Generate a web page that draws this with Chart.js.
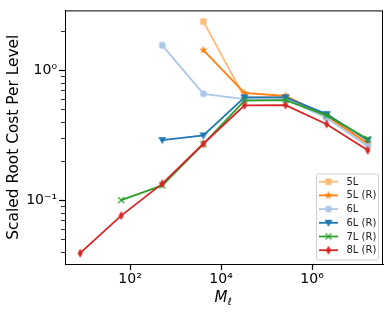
<!DOCTYPE html>
<html>
<head>
<meta charset="utf-8">
<script src="https://cdn.jsdelivr.net/npm/chart.js@4"></script>
<style>
  body { margin: 0; background: #fff; }
  #wrap { width: 390px; height: 312px; }
</style>
</head>
<body>
<div id="wrap"><canvas id="cost"></canvas></div>
<script>
// level sizes M_l (x axis)
var levels = [8, 64, 512, 4096, 32768, 262144, 2097152, 16777216];

// scaled root cost per level, one array per run
var cost_5L   = [null, null, null, 2.38, 0.62, 0.625, 0.44, 0.265];
var cost_5L_R = [null, null, null, 1.43, 0.67, 0.635, 0.445, 0.275];
var cost_6L   = [null, null, 1.56, 0.66, 0.60, 0.60, 0.43, 0.26];
var cost_6L_R = [null, null, 0.29, 0.315, 0.62, 0.62, 0.46, 0.29];
var cost_7L_R = [null, 0.10, 0.13, 0.27, 0.585, 0.59, 0.45, 0.296];
var cost_8L_R = [0.039, 0.076, 0.134, 0.272, 0.537, 0.54, 0.385, 0.242];

var series_names = ['5L', '5L (R)', '6L', '6L (R)', '7L (R)', '8L (R)'];
var series_values = [cost_5L, cost_5L_R, cost_6L, cost_6L_R, cost_7L_R, cost_8L_R];
var series_colors = ['#ffbb78', '#ff7f0e', '#aec7e8', '#1f77b4', '#2ca02c', '#d62728'];
var series_markers = ['square', 'star', 'circle', 'tridown', 'x', 'diamond'];

var y_major = { 0.1: '10\u207b\u00b9', 1: '10\u2070' };
var x_major = { 100: '10\u00b2', 10000: '10\u2074', 1000000: '10\u2076' };

function make_marker(kind, color) {
    let c = document.createElement('canvas');
    c.width = 14; c.height = 14;
    let g = c.getContext('2d');
    g.translate(7, 7);
    g.fillStyle = color;
    g.strokeStyle = color;
    g.beginPath();
    if (kind == 'square') {
        g.rect(-3.2, -3.2, 6.4, 6.4);
        g.fill();
    } else if (kind == 'star') {
        for (let i = 0; i < 10; i++) {
            let r = i % 2 == 0 ? 4.4 : 1.8;
            let a = -Math.PI / 2 + i * Math.PI / 5;
            g.lineTo(r * Math.cos(a), r * Math.sin(a));
        }
        g.closePath();
        g.fill();
    } else if (kind == 'circle') {
        g.arc(0, 0, 3.4, 0, Math.PI * 2);
        g.fill();
    } else if (kind == 'tridown') {
        g.moveTo(-4, -3);
        g.lineTo(4, -3);
        g.lineTo(0, 4);
        g.closePath();
        g.fill();
    } else if (kind == 'x') {
        g.lineWidth = 1.2;
        g.moveTo(-3, -3); g.lineTo(3, 3);
        g.moveTo(3, -3); g.lineTo(-3, 3);
        g.stroke();
    } else {
        g.moveTo(0, -4.5);
        g.lineTo(2.6, 0);
        g.lineTo(0, 4.5);
        g.lineTo(-2.6, 0);
        g.closePath();
        g.fill();
    }
    return c;
}

var datasets = [];
for (let i = 0; i < series_names.length; i++) {
    let pts = [];
    for (let j = 0; j < levels.length; j++) {
        if (series_values[i][j] != null) pts.push({ x: levels[j], y: series_values[i][j] });
    }
    datasets.push({
        label: series_names[i],
        data: pts,
        borderColor: series_colors[i],
        backgroundColor: series_colors[i],
        borderWidth: 1.8,
        pointStyle: make_marker(series_markers[i], series_colors[i]),
        pointRadius: 4,
        order: series_names.length - i
    });
}

var extras = {
    id: 'extras',
    afterDraw(chart) {
        let ctx = chart.ctx;
        let a = chart.chartArea;
        let y = chart.scales.y;
        ctx.save();
        // frame
        ctx.strokeStyle = '#000';
        ctx.lineWidth = 1;
        ctx.strokeRect(a.left + 0.5, a.top + 0.5, a.right - a.left - 1, a.bottom - a.top);
        // minor y ticks
        ctx.lineWidth = 0.8;
        ctx.beginPath();
        y.ticks.forEach(function (t) {
            if (y_major[t.value]) return;
            let py = Math.round(y.getPixelForValue(t.value)) + 0.5;
            ctx.moveTo(a.left - 4, py);
            ctx.lineTo(a.left, py);
        });
        ctx.stroke();
        // x axis title M_l
        ctx.fillStyle = '#000';
        ctx.textBaseline = 'alphabetic';
        ctx.font = 'italic 15px "DejaVu Sans"';
        let cx = (a.left + a.right) / 2;
        let mw = ctx.measureText('M').width;
        ctx.fillText('M', cx - mw / 2 - 3, 302);
        ctx.font = 'italic 10px "DejaVu Sans"';
        ctx.fillText('\u2113', cx + mw / 2 - 3, 305);
        // legend
        let lx = 316, ly = 173.5, lw = 62, lh = 86;
        ctx.fillStyle = 'rgba(255,255,255,0.85)';
        ctx.strokeStyle = '#cfcfcf';
        ctx.lineWidth = 1;
        ctx.beginPath();
        ctx.roundRect(lx + 0.5, ly + 0.5, lw, lh, 2);
        ctx.fill();
        ctx.stroke();
        ctx.font = '10px "DejaVu Sans"';
        ctx.textBaseline = 'middle';
        chart.data.datasets.forEach(function (d, i) {
            let ry = 181.7 + i * 13.7;
            ctx.strokeStyle = d.borderColor;
            ctx.lineWidth = 1.8;
            ctx.beginPath();
            ctx.moveTo(319, ry);
            ctx.lineTo(338, ry);
            ctx.stroke();
            ctx.drawImage(d.pointStyle, 328.5 - 7, ry - 7);
            ctx.fillStyle = '#222';
            ctx.fillText(d.label, 346.5, ry + 0.5);
        });
        ctx.restore();
    }
};

new Chart(document.getElementById('cost'), {
    type: 'line',
    data: { datasets: datasets },
    options: {
        responsive: true,
        maintainAspectRatio: false,
        animation: false,
        layout: { padding: { top: 6, right: 7, left: 0, bottom: 0 } },
        plugins: { legend: { display: false }, tooltip: { enabled: false } },
        scales: {
            x: {
                type: 'logarithmic',
                min: 3.72,
                max: 3.63e7,
                afterBuildTicks: function (s) {
                    s.ticks = Object.keys(x_major).map(function (v) { return { value: Number(v) }; });
                },
                afterFit: function (s) { s.height = 48; },
                grid: { drawOnChartArea: false, tickLength: 6, tickColor: '#000', tickWidth: 1.2 },
                border: { color: '#000', width: 1 },
                ticks: {
                    autoSkip: false,
                    maxRotation: 0,
                    padding: 1,
                    color: '#000',
                    font: { family: 'DejaVu Sans', size: 14 },
                    callback: function (v) { return x_major[v] || ''; }
                }
            },
            y: {
                type: 'logarithmic',
                min: 0.0322,
                max: 2.9,
                afterBuildTicks: function (s) {
                    let t = [];
                    [0.01, 0.1, 1].forEach(function (d) {
                        for (let k = 1; k < 10; k++) {
                            let v = Number((k * d).toPrecision(3));
                            if (v >= s.min && v <= s.max) t.push({ value: v });
                        }
                    });
                    s.ticks = t;
                },
                afterFit: function (s) { s.width = 65; },
                grid: {
                    drawOnChartArea: false,
                    tickLength: 6,
                    tickWidth: 1.2,
                    tickColor: function (c) { return y_major[c.tick.value] ? '#000' : 'rgba(0,0,0,0)'; }
                },
                border: { color: '#000', width: 1 },
                title: {
                    display: true,
                    text: 'Scaled Root Cost Per Level',
                    color: '#000',
                    font: { family: 'DejaVu Sans', size: 15.4 },
                    padding: { top: 5, bottom: 0 }
                },
                ticks: {
                    autoSkip: false,
                    padding: 2,
                    color: '#000',
                    font: { family: 'DejaVu Sans', size: 14 },
                    callback: function (v) { return y_major[v] || ''; }
                }
            }
        }
    },
    plugins: [extras]
});
</script>
</body>
</html>
